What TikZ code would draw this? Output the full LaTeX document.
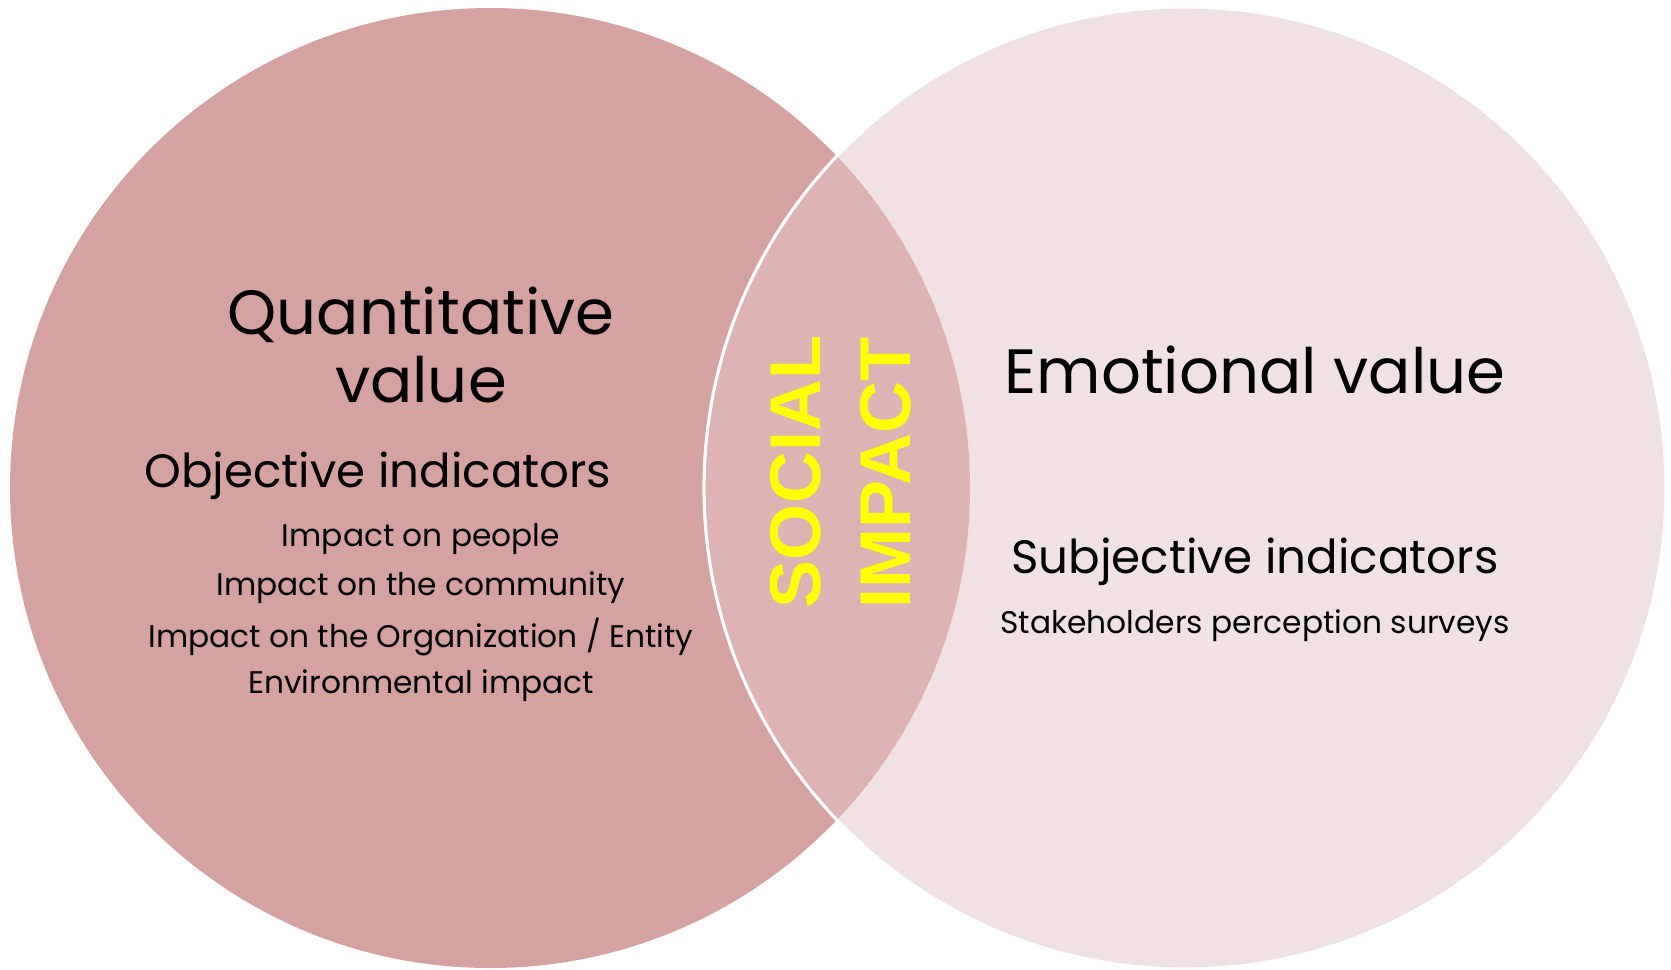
\documentclass[tikz,border=0pt]{standalone}
\usepackage{fontspec}
\setmainfont{Poppins}
\newfontfamily\impactfont{Liberation Sans}
\usetikzlibrary{positioning}
\definecolor{qrose}{RGB}{213,162,162}
\definecolor{lensrose}{RGB}{221,179,180}
\definecolor{erose}{RGB}{240,226,227}
\definecolor{syellow}{RGB}{255,255,0}
\tikzset{bigtitle/.style = {font=\fontsize{17.8}{19.6}\selectfont, align=center, inner sep=0}}
\tikzset{subtitle/.style = {font=\fontsize{13.3}{15}\selectfont, inner sep=0}}
\tikzset{item/.style = {font=\fontsize{8.9}{11}\selectfont, inner sep=0}}
\tikzset{core/.style = {font=\impactfont\bfseries\fontsize{20.5}{22}\selectfont,
                        text=syellow, rotate=90, inner sep=0}}

\begin{document}
\begin{tikzpicture}[x=0.1mm, y=-0.1mm]
  \useasboundingbox (0,0) rectangle (1671,969);
  \coordinate (qc) at (490,488);
  \coordinate (ec) at (1185,488);

  \fill [qrose] (qc) circle [radius=48mm];
  \fill [erose] (ec) circle [radius=48.1mm];
  \begin{scope}
    \clip (qc) circle [radius=48mm];
    \fill [lensrose] (ec) circle [radius=48.1mm];
  \end{scope}
  \draw [white, line width=0.9pt] (ec) circle [radius=48.1mm];

  \node [bigtitle] (quant) at (421, 345) {Quantitative\\value};
  \node [subtitle] (objind) at (378, 476) {Objective indicators};
  \foreach \t [count=\i] in {Impact on people, Impact on the community,
      Impact on the Organization / Entity, Environmental impact} {
    \node [item] (imp\i) at (421, {539 + 49*(\i-1)}) {\t};
  }

  \node [core] (social) at (796, 472) {SOCIAL};
  \node [core] (impact) at (886, 473) {IMPACT};

  \node [bigtitle] (emo) at (1255, 370) {Emotional value};
  \node [subtitle] (subind) at (1255, 562) {Subjective indicators};
  \node [item] (survey) at (1255, 626) {Stakeholders perception surveys};
\end{tikzpicture}
\end{document}
